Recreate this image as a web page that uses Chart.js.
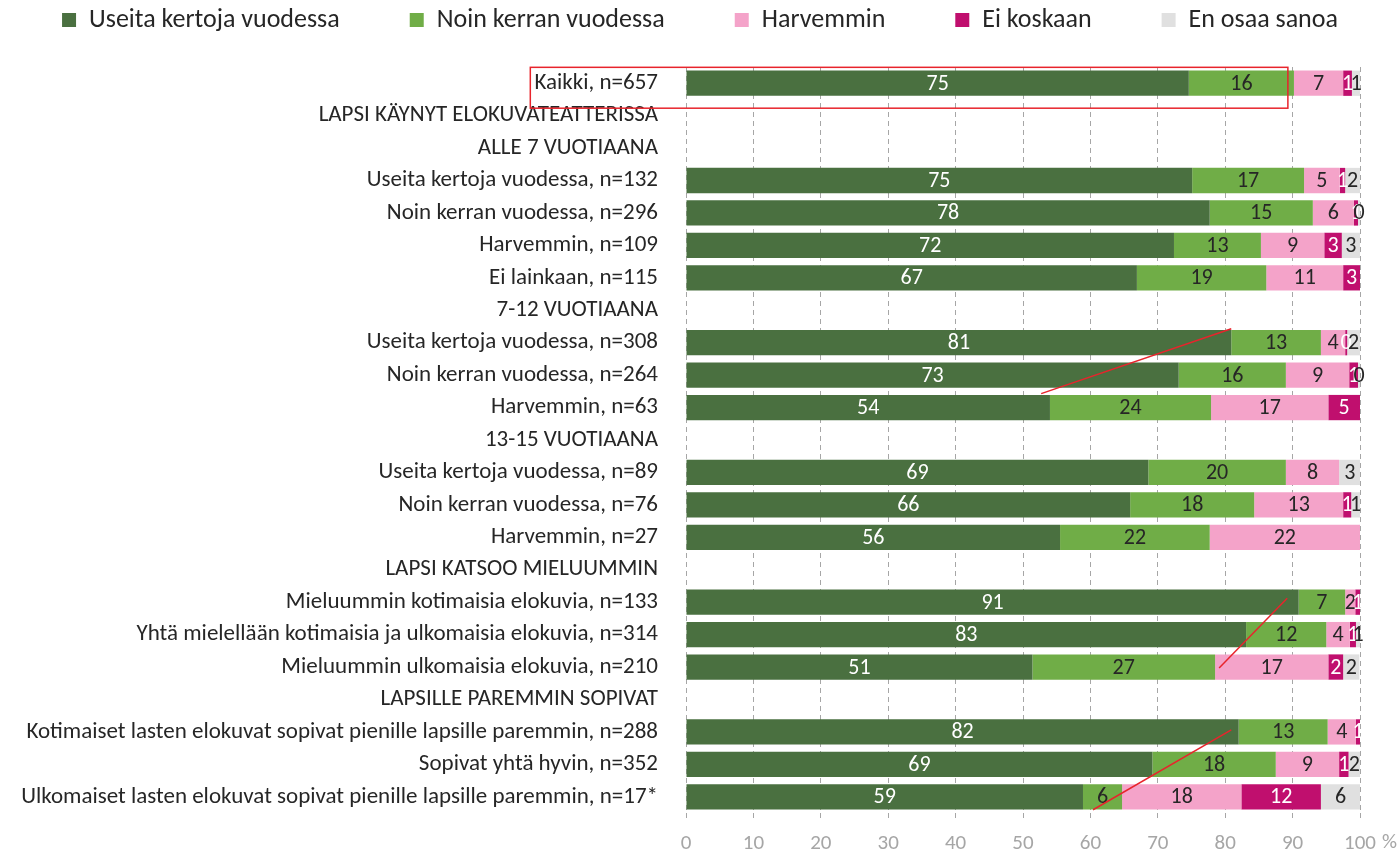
<!DOCTYPE html>
<html>
<head>
<meta charset="utf-8">
<script src="https://cdn.jsdelivr.net/npm/chart.js@4.4.1/dist/chart.umd.min.js"></script>
<style>
  html, body { margin: 0; padding: 0; background: #fff; }
  #wrap { width: 1400px; height: 855px; }
</style>
</head>
<body>
<div id="wrap"><canvas id="kuvio"></canvas></div>
<script>
const rivit = [
  'Kaikki, n=657',
  'LAPSI KÄYNYT ELOKUVATEATTERISSA',
  'ALLE 7 VUOTIAANA',
  'Useita kertoja vuodessa, n=132',
  'Noin kerran vuodessa, n=296',
  'Harvemmin, n=109',
  'Ei lainkaan, n=115',
  '7-12 VUOTIAANA',
  'Useita kertoja vuodessa, n=308',
  'Noin kerran vuodessa, n=264',
  'Harvemmin, n=63',
  '13-15 VUOTIAANA',
  'Useita kertoja vuodessa, n=89',
  'Noin kerran vuodessa, n=76',
  'Harvemmin, n=27',
  'LAPSI KATSOO MIELUUMMIN',
  'Mieluummin kotimaisia elokuvia, n=133',
  'Yhtä mielellään kotimaisia ja ulkomaisia elokuvia, n=314',
  'Mieluummin ulkomaisia elokuvia, n=210',
  'LAPSILLE PAREMMIN SOPIVAT',
  'Kotimaiset lasten elokuvat sopivat pienille lapsille paremmin, n=288',
  'Sopivat yhtä hyvin, n=352',
  'Ulkomaiset lasten elokuvat sopivat pienille lapsille paremmin, n=17*'
];

const useita   = [74.6, null, null, 75.1, 77.7, 72.4, 66.9, null, 80.9, 73.1, 54.0, null, 68.6, 65.9, 55.5, null, 90.9, 83.1, 51.4, null, 82.0, 69.2, 58.9];
const noin     = [15.6, null, null, 16.6, 15.3, 12.9, 19.2, null, 13.3, 15.9, 23.9, null, 20.4, 18.4, 22.2, null, 6.9, 11.9, 27.1, null, 13.2, 18.3, 5.8];
const harvemmin = [7.3, null, null, 5.3, 6.1, 9.4, 11.4, null, 3.6, 9.4, 17.4, null, 7.9, 13.2, 22.3, null, 1.5, 3.5, 16.8, null, 4.2, 9.4, 17.7];
const eiKoskaan = [1.3, null, null, 0.8, 0.6, 2.6, 2.5, null, 0.3, 1.3, 4.7, null, null, 1.2, null, null, 0.7, 0.9, 2.2, null, 0.6, 1.4, 11.8];
const eos      = [1.2, null, null, 2.2, 0.3, 2.7, null, null, 1.9, 0.3, null, null, 3.2, 1.3, null, null, null, 0.6, 2.4, null, null, 1.7, 5.8];

const xTicks = [0, 10, 20, 30, 40, 50, 60, 70, 80, 90, 100];

const fontti = 'Carlito, Calibri, Lato, sans-serif';
const tekstiVari = '#262626';

// arvolabelit palkkien keskelle
const arvoLabelit = {
  id: 'arvoLabelit',
  afterDatasetsDraw(chart) {
    const { ctx } = chart;
    ctx.save();
    ctx.font = '22px ' + fontti;
    ctx.textAlign = 'center';
    ctx.textBaseline = 'middle';
    chart.data.datasets.forEach((ds, i) => {
      const meta = chart.getDatasetMeta(i);
      meta.data.forEach((bar, j) => {
        const v = ds.data[j];
        if (v === null || v === undefined) return;
        ctx.fillStyle = ds.labelColor;
        ctx.fillText(Math.round(v), (bar.x + bar.base) / 2, bar.y + 1);
      });
    });
    ctx.restore();
  }
};

// punaiset merkinnät
const merkinnat = {
  id: 'merkinnat',
  afterDraw(chart) {
    const { ctx } = chart;
    const x = chart.scales.x, y = chart.scales.y;
    const px = v => x.getPixelForValue(v);
    const py = v => y.getPixelForValue(v);
    ctx.save();
    ctx.strokeStyle = '#E8242C';
    ctx.lineWidth = 1.5;
    ctx.strokeRect(px(-23.1), py(-0.49), px(89.3) - px(-23.1), py(0.77) - py(-0.49));
    const viivat = [
      [52.7, 9.57, 80.9, 7.57],
      [79.1, 18.03, 89.2, 15.88],
      [60.4, 22.4, 80.9, 19.94]
    ];
    viivat.forEach(l => {
      ctx.beginPath();
      ctx.moveTo(px(l[0]), py(l[1]));
      ctx.lineTo(px(l[2]), py(l[3]));
      ctx.stroke();
    });
    // % merkki 100:n perään
    ctx.fillStyle = '#A6A6A6';
    ctx.font = '21px ' + fontti;
    ctx.textAlign = 'left';
    ctx.textBaseline = 'middle';
    ctx.fillText('%', px(100) + 22, x.bottom - 12);
    ctx.restore();
  }
};

// legendan korkeus ja paikka: isot välit vaakasuunnassa, mutta selite ylös yhdelle riville
const legendKorkeus = {
  id: 'legendKorkeus',
  beforeLayout(chart) {
    const lg = chart.legend;
    if (!lg || lg._korjattu) return;
    const fit = lg.fit;
    lg.fit = function () {
      this.maxWidth = 3000;
      fit.call(this);
      this.width = chart.width;
      this.height = 67;
    };
    lg._korjattu = true;
  },
  afterLayout(chart) {
    const lg = chart.legend;
    if (!lg) return;
    const pad = lg.options.labels.padding;
    lg.top = 7 - pad;
    lg.bottom = 67;
    lg.left = -300;
    lg.right = chart.width + 300;
  }
};

function sarja(label, data, color, labelColor) {
  return {
    label: label,
    data: data,
    backgroundColor: color,
    labelColor: labelColor,
    borderWidth: 0,
    categoryPercentage: 1,
    barPercentage: 0.78
  };
}

new Chart(document.getElementById('kuvio'), {
  type: 'bar',
  data: {
    labels: rivit,
    datasets: [
      sarja('Useita kertoja vuodessa', useita, '#4A7040', '#ffffff'),
      sarja('Noin kerran vuodessa', noin, '#70AD47', tekstiVari),
      sarja('Harvemmin', harvemmin, '#F4A3C9', tekstiVari),
      sarja('Ei koskaan', eiKoskaan, '#C00F6E', '#ffffff'),
      sarja('En osaa sanoa', eos, '#E0E0E0', tekstiVari)
    ]
  },
  plugins: [arvoLabelit, merkinnat, legendKorkeus],
  options: {
    indexAxis: 'y',
    responsive: true,
    maintainAspectRatio: false,
    animation: false,
    layout: { padding: { left: 0, right: 40, top: 0, bottom: 0 } },
    plugins: {
      tooltip: { enabled: false },
      legend: {
        position: 'top',
        labels: {
          boxWidth: 14,
          boxHeight: 14,
          padding: 70,
          color: tekstiVari,
          font: { family: fontti, size: 26 }
        }
      }
    },
    scales: {
      x: {
        stacked: true,
        min: 0,
        max: 100,
        afterBuildTicks: s => { s.ticks = xTicks.map(v => ({ value: v })); },
        afterFit: s => { s.height = 42; },
        grid: {
          color: '#A6A6A6',
          tickLength: 8,
          tickBorderDash: [5, 4]
        },
        border: { display: false, dash: [5, 4] },
        ticks: {
          color: '#A6A6A6',
          padding: 10,
          font: { family: fontti, size: 21 }
        }
      },
      y: {
        stacked: true,
        afterFit: s => { s.width = 686; },
        grid: { display: false },
        border: { display: false },
        ticks: {
          color: tekstiVari,
          padding: 20,
          autoSkip: false,
          font: { family: fontti, size: 23 }
        }
      }
    }
  }
});
</script>
</body>
</html>
